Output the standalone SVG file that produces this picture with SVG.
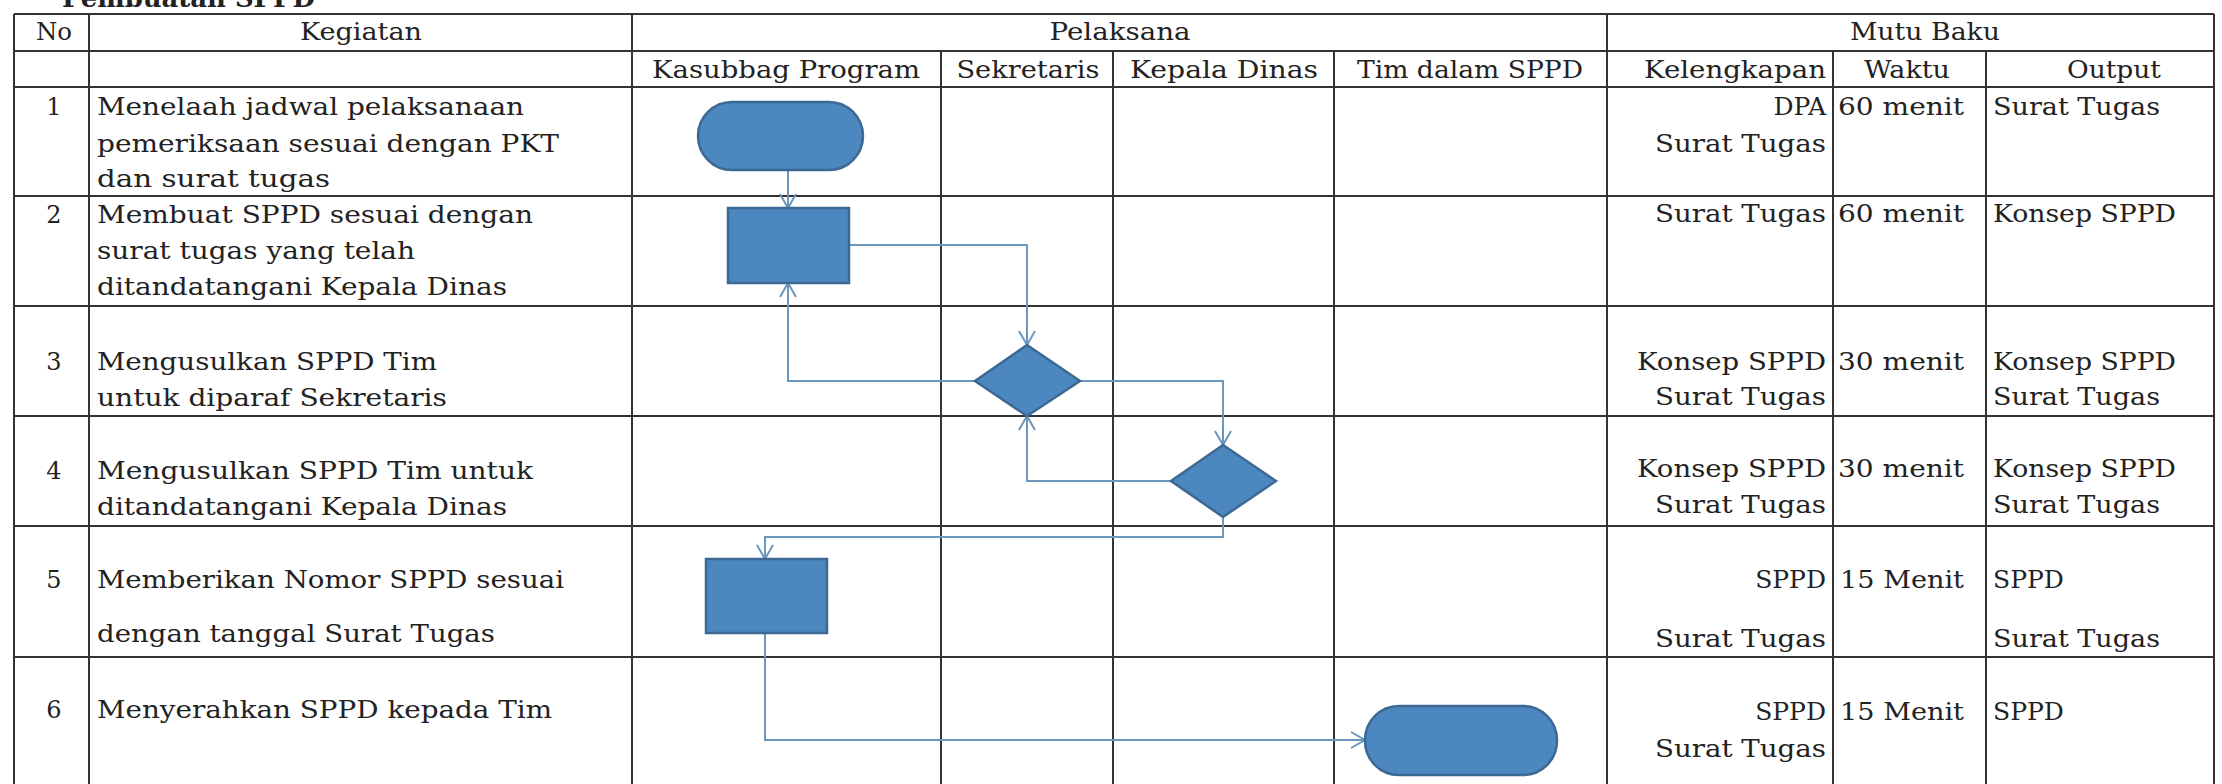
<svg xmlns="http://www.w3.org/2000/svg" width="2222" height="784" viewBox="0 0 2222 784">
<style>
.t{font-family:"DejaVu Serif","Liberation Serif",serif;font-size:24px;fill:#222}
.n{font-size:25px}
.m{text-anchor:middle}
.e{text-anchor:end}
.b{font-weight:bold;font-size:26px}
.grid line{stroke:#333;stroke-width:2}
.shape{fill:#4d87bf;stroke:#3b6994;stroke-width:2.5}
.conn path{fill:none;stroke:#6a97bd;stroke-width:2;marker-end:url(#arr)}
</style>
<defs>
<marker id="arr" markerUnits="userSpaceOnUse" markerWidth="18" markerHeight="20" refX="15" refY="10" orient="auto">
<path d="M1,2 L15,10 L1,18" fill="none" stroke="#6a97bd" stroke-width="2"/>
</marker>
</defs>
<rect width="2222" height="784" fill="#fff"/>
<text class="t b" x="62" y="7" textLength="253" lengthAdjust="spacingAndGlyphs">Pembuatan SPPD</text>
<g class="grid" id="table">
<line x1="14" y1="14" x2="2214" y2="14"/>
<line x1="14" y1="51" x2="2214" y2="51"/>
<line x1="14" y1="87" x2="2214" y2="87"/>
<line x1="14" y1="196" x2="2214" y2="196"/>
<line x1="14" y1="306" x2="2214" y2="306"/>
<line x1="14" y1="416" x2="2214" y2="416"/>
<line x1="14" y1="526" x2="2214" y2="526"/>
<line x1="14" y1="657" x2="2214" y2="657"/>
<line x1="14" y1="14" x2="14" y2="784"/>
<line x1="89" y1="14" x2="89" y2="784"/>
<line x1="632" y1="14" x2="632" y2="784"/>
<line x1="1607" y1="14" x2="1607" y2="784"/>
<line x1="2214" y1="14" x2="2214" y2="784"/>
<line x1="941" y1="51" x2="941" y2="784"/>
<line x1="1113" y1="51" x2="1113" y2="784"/>
<line x1="1334" y1="51" x2="1334" y2="784"/>
<line x1="1833" y1="51" x2="1833" y2="784"/>
<line x1="1986" y1="51" x2="1986" y2="784"/>
</g>
<g id="headers">
<text class="t m" x="54" y="40" textLength="36" lengthAdjust="spacingAndGlyphs">No</text>
<text class="t m" x="361" y="40" textLength="122" lengthAdjust="spacingAndGlyphs">Kegiatan</text>
<text class="t m" x="1120" y="40" textLength="141" lengthAdjust="spacingAndGlyphs">Pelaksana</text>
<text class="t m" x="1925" y="40" textLength="150" lengthAdjust="spacingAndGlyphs">Mutu Baku</text>
<text class="t m" x="786" y="78" textLength="268" lengthAdjust="spacingAndGlyphs">Kasubbag Program</text>
<text class="t m" x="1028" y="78" textLength="143" lengthAdjust="spacingAndGlyphs">Sekretaris</text>
<text class="t m" x="1224" y="78" textLength="188" lengthAdjust="spacingAndGlyphs">Kepala Dinas</text>
<text class="t m" x="1470" y="78" textLength="226" lengthAdjust="spacingAndGlyphs">Tim dalam SPPD</text>
<text class="t e" x="1826" y="78" textLength="182" lengthAdjust="spacingAndGlyphs">Kelengkapan</text>
<text class="t m" x="1907" y="78" textLength="86" lengthAdjust="spacingAndGlyphs">Waktu</text>
<text class="t m" x="2114" y="78" textLength="94" lengthAdjust="spacingAndGlyphs">Output</text>
</g>
<g id="kegiatan">
<text class="t m" x="54" y="115">1</text>
<text class="t" x="97" y="115" textLength="427" lengthAdjust="spacingAndGlyphs">Menelaah jadwal pelaksanaan</text>
<text class="t" x="97" y="152" textLength="462" lengthAdjust="spacingAndGlyphs">pemeriksaan sesuai dengan PKT</text>
<text class="t" x="97" y="187" textLength="233" lengthAdjust="spacingAndGlyphs">dan surat tugas</text>
<text class="t m" x="54" y="223">2</text>
<text class="t" x="97" y="223" textLength="436" lengthAdjust="spacingAndGlyphs">Membuat SPPD sesuai dengan</text>
<text class="t" x="97" y="259" textLength="318" lengthAdjust="spacingAndGlyphs">surat tugas yang telah</text>
<text class="t" x="97" y="295" textLength="410" lengthAdjust="spacingAndGlyphs">ditandatangani Kepala Dinas</text>
<text class="t m" x="54" y="370">3</text>
<text class="t" x="97" y="370" textLength="340" lengthAdjust="spacingAndGlyphs">Mengusulkan SPPD Tim</text>
<text class="t" x="97" y="406" textLength="350" lengthAdjust="spacingAndGlyphs">untuk diparaf Sekretaris</text>
<text class="t m" x="54" y="479">4</text>
<text class="t" x="97" y="479" textLength="436" lengthAdjust="spacingAndGlyphs">Mengusulkan SPPD Tim untuk</text>
<text class="t" x="97" y="515" textLength="410" lengthAdjust="spacingAndGlyphs">ditandatangani Kepala Dinas</text>
<text class="t m" x="54" y="588">5</text>
<text class="t" x="97" y="588" textLength="467" lengthAdjust="spacingAndGlyphs">Memberikan Nomor SPPD sesuai</text>
<text class="t" x="97" y="642" textLength="398" lengthAdjust="spacingAndGlyphs">dengan tanggal Surat Tugas</text>
<text class="t m" x="54" y="718">6</text>
<text class="t" x="97" y="718" textLength="455" lengthAdjust="spacingAndGlyphs">Menyerahkan SPPD kepada Tim</text>
</g>
<g id="mutu">
<text class="t n e" x="1826" y="115">DPA</text>
<text class="t e" x="1826" y="152" textLength="171" lengthAdjust="spacingAndGlyphs">Surat Tugas</text>
<text class="t" x="1838" y="115" textLength="126" lengthAdjust="spacingAndGlyphs">60 menit</text>
<text class="t" x="1993" y="115" textLength="167" lengthAdjust="spacingAndGlyphs">Surat Tugas</text>
<text class="t e" x="1826" y="222" textLength="171" lengthAdjust="spacingAndGlyphs">Surat Tugas</text>
<text class="t" x="1838" y="222" textLength="126" lengthAdjust="spacingAndGlyphs">60 menit</text>
<text class="t" x="1993" y="222" textLength="183" lengthAdjust="spacingAndGlyphs">Konsep SPPD</text>
<text class="t e" x="1826" y="370" textLength="189" lengthAdjust="spacingAndGlyphs">Konsep SPPD</text>
<text class="t e" x="1826" y="405" textLength="171" lengthAdjust="spacingAndGlyphs">Surat Tugas</text>
<text class="t" x="1838" y="370" textLength="126" lengthAdjust="spacingAndGlyphs">30 menit</text>
<text class="t" x="1993" y="370" textLength="183" lengthAdjust="spacingAndGlyphs">Konsep SPPD</text>
<text class="t" x="1993" y="405" textLength="167" lengthAdjust="spacingAndGlyphs">Surat Tugas</text>
<text class="t e" x="1826" y="477" textLength="189" lengthAdjust="spacingAndGlyphs">Konsep SPPD</text>
<text class="t e" x="1826" y="513" textLength="171" lengthAdjust="spacingAndGlyphs">Surat Tugas</text>
<text class="t" x="1838" y="477" textLength="126" lengthAdjust="spacingAndGlyphs">30 menit</text>
<text class="t" x="1993" y="477" textLength="183" lengthAdjust="spacingAndGlyphs">Konsep SPPD</text>
<text class="t" x="1993" y="513" textLength="167" lengthAdjust="spacingAndGlyphs">Surat Tugas</text>
<text class="t n e" x="1826" y="588">SPPD</text>
<text class="t e" x="1826" y="647" textLength="171" lengthAdjust="spacingAndGlyphs">Surat Tugas</text>
<text class="t" x="1840" y="588" textLength="124" lengthAdjust="spacingAndGlyphs">15 Menit</text>
<text class="t n" x="1993" y="588">SPPD</text>
<text class="t" x="1993" y="647" textLength="167" lengthAdjust="spacingAndGlyphs">Surat Tugas</text>
<text class="t n e" x="1826" y="720">SPPD</text>
<text class="t e" x="1826" y="757" textLength="171" lengthAdjust="spacingAndGlyphs">Surat Tugas</text>
<text class="t" x="1840" y="720" textLength="124" lengthAdjust="spacingAndGlyphs">15 Menit</text>
<text class="t n" x="1993" y="720">SPPD</text>
</g>
<g class="conn" id="connectors">
<path d="M788,170 L788,208"/>
<path d="M849,245 L1027,245 L1027,345"/>
<path d="M977,381 L788,381 L788,283"/>
<path d="M1080,381 L1223,381 L1223,445"/>
<path d="M1171,481 L1027,481 L1027,416"/>
<path d="M1223,517 L1223,537 L765,537 L765,559"/>
<path d="M765,633 L765,740 L1365,740"/>
</g>
<g id="start"><rect class="shape" x="698" y="102" width="165" height="68" rx="34"/></g>
<g id="buat-sppd"><rect class="shape" x="728" y="208" width="121" height="75"/></g>
<g id="paraf-sekretaris"><path class="shape" d="M1027,345 L1080,381 L1027,416 L975,381 Z"/></g>
<g id="ttd-kepala-dinas"><path class="shape" d="M1223,445 L1276,481 L1223,517 L1171,481 Z"/></g>
<g id="beri-nomor"><rect class="shape" x="706" y="559" width="121" height="74"/></g>
<g id="end"><rect class="shape" x="1365" y="706" width="192" height="69" rx="34"/></g>
</svg>
